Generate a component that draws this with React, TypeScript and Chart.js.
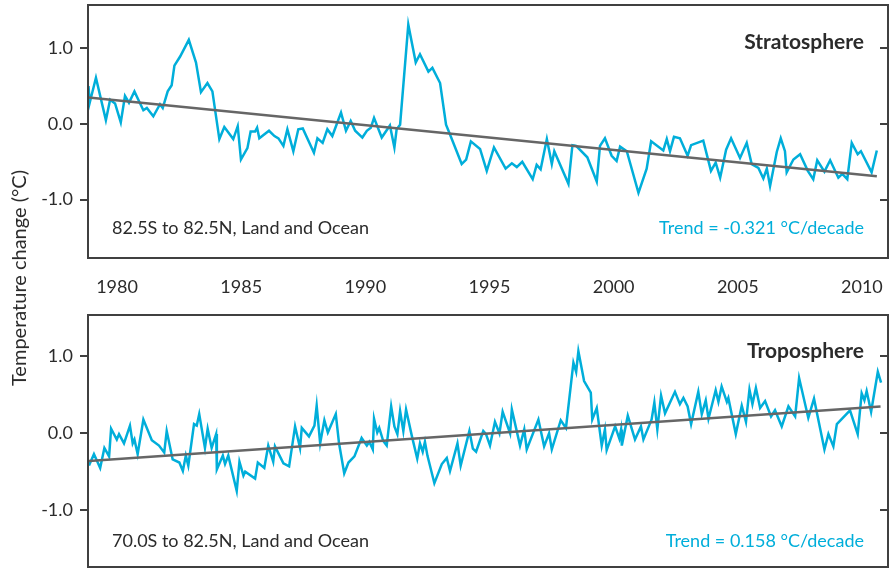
import React, { useEffect, useRef } from "react";
import { Chart, registerables } from "chart.js";

Chart.register(...registerables);

// ---- data ----
const X_MIN = 1978.83;
const X_MAX = 2011.05;
const X_TICKS = [1980, 1985, 1990, 1995, 2000, 2005, 2010];
const Y_TICKS = [-1, 0, 1];

const STRAT_YEARS = [1978.85,1978.9,1979.15,1979.55,1979.72,1979.92,1980.15,1980.32,1980.48,1980.7,1980.9,1981.06,1981.2,1981.46,1981.73,1981.84,1982.04,1982.2,1982.31,1982.54,1982.89,1983.18,1983.38,1983.64,1983.84,1984.12,1984.32,1984.68,1984.86,1984.99,1985.25,1985.38,1985.56,1985.64,1985.73,1986.12,1986.34,1986.5,1986.7,1986.86,1987.1,1987.3,1987.48,1987.93,1988.07,1988.28,1988.47,1988.67,1989.02,1989.22,1989.41,1989.59,1989.88,1990.06,1990.22,1990.35,1990.66,1990.99,1991.17,1991.26,1991.4,1991.73,1992.03,1992.2,1992.54,1992.7,1993.01,1993.25,1993.41,1993.88,1994.06,1994.25,1994.62,1994.89,1995.18,1995.65,1995.9,1996.1,1996.32,1996.74,1996.9,1997.06,1997.31,1997.51,1997.61,1998.18,1998.34,1998.49,1998.94,1999.32,1999.45,1999.65,1999.92,2000.12,2000.26,2000.53,2001.0,2001.33,2001.51,2002.0,2002.14,2002.27,2002.43,2002.67,2002.98,2003.12,2003.61,2003.92,2004.11,2004.29,2004.53,2004.73,2005.09,2005.36,2005.56,2005.83,2006.03,2006.17,2006.3,2006.57,2006.73,2006.9,2006.97,2007.24,2007.51,2007.82,2008.04,2008.2,2008.49,2008.72,2009.05,2009.21,2009.41,2009.59,2009.83,2009.96,2010.39,2010.6];
const STRAT_VALUES = [0.5,0.28,0.61,0.05,0.32,0.27,0.02,0.37,0.28,0.43,0.29,0.18,0.21,0.1,0.26,0.21,0.43,0.51,0.77,0.89,1.11,0.81,0.42,0.54,0.43,-0.2,-0.04,-0.2,-0.03,-0.47,-0.32,-0.1,-0.1,-0.05,-0.19,-0.09,-0.16,-0.19,-0.29,-0.07,-0.36,-0.07,-0.06,-0.38,-0.19,-0.25,-0.07,-0.16,0.15,-0.09,0.04,-0.09,-0.18,-0.09,-0.05,0.08,-0.18,-0.02,-0.31,-0.07,-0.01,1.31,0.81,0.92,0.69,0.74,0.54,-0.01,-0.14,-0.53,-0.47,-0.23,-0.33,-0.62,-0.31,-0.59,-0.52,-0.57,-0.5,-0.73,-0.54,-0.6,-0.2,-0.53,-0.36,-0.79,-0.28,-0.29,-0.44,-0.76,-0.29,-0.19,-0.42,-0.49,-0.3,-0.36,-0.91,-0.59,-0.23,-0.35,-0.2,-0.36,-0.17,-0.19,-0.42,-0.28,-0.22,-0.62,-0.51,-0.71,-0.34,-0.19,-0.45,-0.25,-0.53,-0.58,-0.72,-0.59,-0.82,-0.37,-0.19,-0.36,-0.64,-0.47,-0.4,-0.62,-0.73,-0.48,-0.63,-0.48,-0.71,-0.66,-0.73,-0.25,-0.4,-0.36,-0.64,-0.35];
const STRAT_TREND_YEARS = [1978.85, 2010.6];
const STRAT_TREND_VALUES = [0.35, -0.69];

const TROPO_YEARS = [1978.87,1979.07,1979.32,1979.49,1979.68,1979.76,1979.99,1980.08,1980.28,1980.52,1980.63,1980.7,1980.83,1981.06,1981.4,1981.69,1981.9,1982.0,1982.24,1982.51,1982.65,1982.77,1982.87,1983.1,1983.21,1983.31,1983.54,1983.65,1983.81,1983.99,1984.02,1984.26,1984.35,1984.48,1984.82,1984.93,1985.09,1985.16,1985.56,1985.67,1985.93,1986.09,1986.29,1986.36,1986.7,1986.93,1987.17,1987.37,1987.44,1987.73,1987.95,1988.04,1988.18,1988.35,1988.49,1988.81,1988.94,1989.15,1989.32,1989.56,1989.85,1990.06,1990.16,1990.3,1990.35,1990.48,1990.56,1990.72,1990.86,1991.04,1991.17,1991.29,1991.4,1991.53,1991.64,1991.87,1992.09,1992.2,1992.31,1992.4,1992.5,1992.78,1993.08,1993.28,1993.41,1993.71,1993.84,1994.19,1994.33,1994.46,1994.75,1994.86,1995.02,1995.22,1995.4,1995.53,1995.83,1995.9,1996.23,1996.4,1996.5,1996.97,1997.2,1997.4,1997.51,1997.87,1998.08,1998.38,1998.49,1998.58,1998.81,1999.08,1999.14,1999.32,1999.52,1999.65,1999.72,2000.06,2000.23,2000.3,2000.33,2000.57,2000.86,2001.1,2001.2,2001.53,2001.64,2001.76,2001.91,2002.07,2002.47,2002.67,2002.81,2002.98,2003.12,2003.41,2003.55,2003.71,2003.82,2004.11,2004.22,2004.35,2004.56,2004.62,2004.92,2005.16,2005.33,2005.47,2005.59,2005.73,2005.9,2006.1,2006.34,2006.5,2006.77,2007.04,2007.31,2007.47,2007.84,2008.07,2008.49,2008.65,2008.85,2008.99,2009.52,2009.83,2009.99,2010.1,2010.19,2010.37,2010.64,2010.77];
const TROPO_VALUES = [-0.42,-0.27,-0.45,-0.19,-0.3,0.06,-0.08,-0.01,-0.13,0.1,-0.13,-0.08,-0.27,0.18,-0.09,-0.16,-0.25,0.03,-0.34,-0.38,-0.49,-0.29,-0.42,0.12,0.1,0.25,-0.19,0.06,-0.19,-0.01,-0.47,-0.29,-0.4,-0.29,-0.75,-0.37,-0.55,-0.5,-0.59,-0.38,-0.45,-0.16,-0.37,-0.17,-0.39,-0.43,0.09,-0.19,0.07,-0.04,0.1,0.36,-0.13,0.17,0.01,0.25,-0.13,-0.52,-0.38,-0.3,-0.06,-0.16,-0.11,-0.21,0.19,0.01,0.07,-0.1,-0.16,0.35,0.09,-0.01,0.29,0.03,0.31,-0.03,-0.33,-0.13,-0.24,-0.11,-0.29,-0.65,-0.4,-0.32,-0.49,-0.13,-0.42,0.03,-0.2,-0.24,0.03,-0.01,-0.16,0.15,0.0,0.28,0.0,0.31,-0.16,0.05,-0.21,0.18,-0.17,0.0,-0.21,0.17,0.07,0.92,0.8,1.07,0.68,0.53,0.18,0.33,-0.16,0.05,-0.22,0.09,-0.07,0.05,-0.16,0.23,-0.08,0.09,-0.08,0.18,0.4,0.05,0.49,0.26,0.54,0.38,0.46,0.35,0.12,0.54,0.25,0.43,0.19,0.56,0.41,0.61,0.41,0.46,-0.01,0.36,0.15,0.57,0.38,0.59,0.33,0.42,0.22,0.3,0.09,0.35,0.22,0.72,0.2,0.45,-0.21,-0.01,-0.17,0.12,0.3,-0.01,0.52,0.43,0.55,0.28,0.8,0.66];
const TROPO_TREND_YEARS = [1978.87, 2010.75];
const TROPO_TREND_VALUES = [-0.36, 0.35];

// ---- style ----
const FONT = "Lato, 'Open Sans', sans-serif";
const BLUE = "#00AEDA";
const TREND_GREY = "#666666";
const FRAME = "#404040";
const TEXT = "#2b2b2b";

const panelPlugin = {
  id: "panel",
  afterDraw(chart: any, _args: any, opts: any) {
    const { ctx, chartArea } = chart;
    const { left, top, right, bottom } = chartArea;
    const y = chart.scales.y;
    ctx.save();
    ctx.strokeStyle = FRAME;
    ctx.lineWidth = 2;
    ctx.strokeRect(left, top, right - left, bottom - top);
    Y_TICKS.forEach((v) => {
      const py = Math.round(y.getPixelForValue(v));
      ctx.beginPath();
      ctx.moveTo(right - 8, py);
      ctx.lineTo(right, py);
      ctx.stroke();
    });
    ctx.textBaseline = "middle";
    ctx.fillStyle = TEXT;
    ctx.textAlign = "right";
    ctx.font = `bold 21px ${FONT}`;
    ctx.fillText(opts.title, right - 24, top + opts.titleOffset);
    ctx.font = `18px ${FONT}`;
    ctx.textAlign = "left";
    ctx.fillText(opts.region, left + 24, bottom - opts.noteOffset);
    ctx.fillStyle = BLUE;
    ctx.textAlign = "right";
    ctx.fillText(opts.trend, right - 24, bottom - opts.noteOffset);
    ctx.restore();
  },
};

type PanelProps = {
  years: number[];
  values: number[];
  trendYears: number[];
  trendValues: number[];
  title: string;
  region: string;
  trend: string;
  showX: boolean;
  top: number;
  height: number;
  xHeight: number;
  padTop: number;
  padBottom: number;
  titleOffset: number;
  noteOffset: number;
  yMin: number;
  yMax: number;
};

function Panel(p: PanelProps) {
  const ref = useRef<HTMLCanvasElement | null>(null);
  useEffect(() => {
    if (!ref.current) return;
    const chart = new Chart(ref.current, {
      type: "line",
      data: {
        datasets: [
          {
            data: p.trendYears.map((x, i) => ({ x, y: p.trendValues[i] })),
            borderColor: TREND_GREY,
            borderWidth: 2.5,
            pointRadius: 0,
            fill: false,
          },
          {
            data: p.years.map((x, i) => ({ x, y: p.values[i] })),
            borderColor: BLUE,
            borderWidth: 2.5,
            pointRadius: 0,
            fill: false,
            tension: 0,
          },
        ],
      },
      options: {
        responsive: false,
        animation: false,
        devicePixelRatio: 1,
        layout: { padding: { top: p.padTop, right: 2, left: 0, bottom: p.padBottom } },
        plugins: {
          legend: { display: false },
          tooltip: { enabled: false },
          panel: {
            title: p.title,
            region: p.region,
            trend: p.trend,
            titleOffset: p.titleOffset,
            noteOffset: p.noteOffset,
          },
        } as any,
        scales: {
          x: {
            type: "linear",
            min: X_MIN,
            max: X_MAX,
            display: p.showX,
            grid: { display: false },
            border: { display: false },
            afterBuildTicks: (s: any) => {
              s.ticks = X_TICKS.map((v) => ({ value: v }));
            },
            afterFit: (s: any) => {
              s.height = p.xHeight;
              s.paddingLeft = 0;
              s.paddingRight = 0;
            },
            ticks: {
              padding: 10,
              maxRotation: 0,
              autoSkip: false,
              color: TEXT,
              font: { family: FONT, size: 18 },
              callback: (v: any) => String(v),
            },
          },
          y: {
            type: "linear",
            min: p.yMin,
            max: p.yMax,
            grid: {
              drawOnChartArea: false,
              drawTicks: true,
              tickLength: 8,
              color: FRAME,
              lineWidth: 2,
            },
            border: { display: false },
            afterBuildTicks: (s: any) => {
              s.ticks = Y_TICKS.map((v) => ({ value: v }));
            },
            afterFit: (s: any) => {
              s.width = 88;
              s.paddingTop = 0;
              s.paddingBottom = 0;
            },
            ticks: {
              padding: 7,
              color: TEXT,
              font: { family: FONT, size: 18 },
              callback: (v: any) => Number(v).toFixed(1),
            },
          },
        },
      },
      plugins: [panelPlugin],
    } as any);
    return () => chart.destroy();
  }, []);
  return (
    <canvas
      ref={ref}
      width={890}
      height={p.height}
      style={{ position: "absolute", left: 0, top: p.top, width: 890, height: p.height }}
    />
  );
}

export default function App() {
  return (
    <div
      style={{
        position: "fixed",
        left: 0,
        top: 0,
        width: 890,
        height: 569,
        background: "#ffffff",
        overflow: "hidden",
      }}
    >
      <Panel
        years={STRAT_YEARS}
        values={STRAT_VALUES}
        trendYears={STRAT_TREND_YEARS}
        trendValues={STRAT_TREND_VALUES}
        title="Stratosphere"
        region="82.5S to 82.5N, Land and Ocean"
        trend="Trend = -0.321 °C/decade"
        showX={true}
        top={0}
        height={308}
        xHeight={50}
        padTop={5}
        padBottom={0}
        titleOffset={37}
        noteOffset={30}
        yMin={-1.77}
        yMax={1.57}
      />
      <Panel
        years={TROPO_YEARS}
        values={TROPO_VALUES}
        trendYears={TROPO_TREND_YEARS}
        trendValues={TROPO_TREND_VALUES}
        title="Troposphere"
        region="70.0S to 82.5N, Land and Ocean"
        trend="Trend = 0.158 °C/decade"
        showX={false}
        top={310}
        height={259}
        xHeight={0}
        padTop={5}
        padBottom={2}
        titleOffset={36}
        noteOffset={26}
        yMin={-1.74}
        yMax={1.54}
      />
      <div
        style={{
          position: "absolute",
          left: 18,
          top: 278,
          transform: "translate(-50%, -50%) rotate(-90deg)",
          whiteSpace: "nowrap",
          fontFamily: FONT,
          fontSize: 20,
          color: TEXT,
        }}
      >
        Temperature change (°C)
      </div>
    </div>
  );
}
